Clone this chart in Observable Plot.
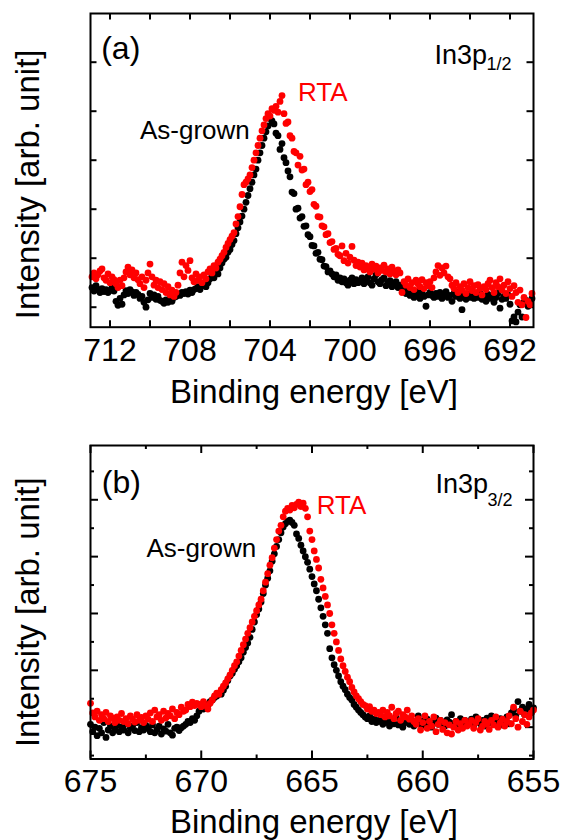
<!DOCTYPE html>
<html><head><meta charset="utf-8">
<script src="https://cdn.jsdelivr.net/npm/d3@7"></script>
<script src="https://cdn.jsdelivr.net/npm/@observablehq/plot@0.6"></script>
<style>
html,body{margin:0;padding:0;background:#fff;}
#chart{width:564px;height:840px;}
#chart svg{display:block;}
</style></head><body><div id="chart"></div>
<script>
// ---- Panel (a): In3p1/2, binding energy grid 712.9 -> 690.9 eV, step 0.1 eV ----
const energyStartA = 712.9;
const energyStepA = 0.1;
const asGrownA = [
0.40,0.33,0.44,0.36,0.30,
0.38,0.32,0.36,0.30,0.34,0.40,0.33,
0.12,0.04,0.18,0.06,0.25,
0.34,0.28,0.36,0.31,0.24,
0.30,0.26,0.18,0.22,0.10,0.00,0.15,
0.28,0.20,0.25,0.16,0.22,0.14,
0.12,0.08,0.15,0.10,0.18,0.12,0.20,
0.22,0.26,0.24,0.30,0.28,0.32,0.27,0.35,0.30,0.36,
0.38,0.42,0.36,0.44,0.48,0.42,0.50,
0.58,0.64,0.60,0.72,0.68,0.80,
0.90,0.98,1.02,1.12,1.18,1.28,1.36,
1.50,1.62,1.74,1.86,2.00,
2.14,2.28,2.42,2.55,2.70,
2.82,3.00,3.15,3.30,
3.45,3.58,3.70,3.85,3.80,
3.74,3.55,3.50,3.22,3.34,3.05,2.95,2.78,2.66,2.35,2.32,2.00,2.02,1.82,1.85,1.65,1.66,1.48,1.44,1.26,1.25,1.10,1.12,0.98,0.97,0.84,0.83,0.72,0.74,
0.68,0.62,0.66,0.55,0.60,0.52,0.58,0.50,0.45,0.55,0.60,0.48,0.56,0.50,
0.52,0.60,0.48,0.55,0.62,0.50,0.45,0.58,0.66,0.52,0.48,0.56,0.60,0.44,0.50,0.54,0.42,0.48,0.52,0.40,0.45,
0.38,0.32,0.28,0.35,0.24,0.30,0.20,0.26,0.33,0.18,0.28,0.22,0.02,0.25,0.30,0.24,0.20,
0.28,0.22,0.30,0.18,0.26,0.32,0.20,0.24,0.12,0.28,0.22,0.30,0.18,-0.05,0.24,0.16,0.26,0.20,0.28,0.18,
0.24,0.20,0.28,0.16,0.22,0.12,0.26,0.18,0.24,0.10,0.20,0.28,-0.02,0.16,0.22,0.18,0.25,0.06,-0.28,-0.20,
-0.30,-0.10,0.05,-0.20,0.10,0.14,0.02,0.12,0.18
];
const rtaA = [
0.62,0.70,0.58,0.66,0.74,
0.78,0.60,0.55,0.68,0.50,0.62,0.56,
0.48,0.40,0.55,0.44,0.60,
0.72,0.82,0.66,0.76,0.60,0.70,0.56,
0.48,0.62,0.40,0.55,0.70,0.88,
0.62,0.45,0.55,0.40,0.52,0.36,0.48,0.30,0.42,
0.25,0.35,0.22,0.30,0.45,
0.70,0.92,0.62,0.85,0.75,0.95,
0.60,0.52,0.68,0.55,0.62,0.50,0.66,0.58,0.72,
0.78,0.70,0.85,0.80,0.92,0.98,
1.05,1.12,1.22,1.30,1.38,1.45,1.52,
1.70,1.85,2.05,2.30,2.50,
2.55,2.62,2.70,2.85,3.00,
3.15,3.30,3.45,3.60,
3.72,3.85,3.95,3.90,4.05,
4.02,4.10,3.98,4.20,4.32,
3.95,3.75,3.78,3.50,3.45,3.18,
3.15,2.90,3.08,2.80,2.82,
2.50,2.55,2.36,2.40,
2.10,2.06,1.85,1.84,1.66,1.64,
1.48,1.50,1.32,1.34,1.18,1.20,1.08,
1.05,1.25,0.95,1.10,0.90,1.02,1.24,0.96,0.85,0.92,
0.82,0.90,0.76,0.85,0.80,0.72,0.88,0.78,0.84,0.70,0.80,0.75,0.86,0.72,0.78,0.68,0.82,0.74,0.66,0.76,0.70,
0.30,0.52,0.45,0.58,0.40,0.50,0.36,0.55,0.48,0.42,0.56,0.38,0.50,0.44,0.52,0.40,0.60,
0.72,0.85,0.65,0.80,0.70,0.84,0.62,0.58,
0.45,0.38,0.50,0.30,0.42,0.35,0.48,0.28,0.40,0.52,0.34,0.44,0.30,0.46,0.38,0.25,0.42,0.36,0.48,
0.55,0.40,0.30,0.50,0.42,0.58,0.35,0.45,0.28,0.52,0.38,0.22,0.44,
0.30,0.10,0.35,0.05,0.20,-0.21,0.12,0.05,0.28
];
const xTicksA = [712,710,708,706,704,702,700,698,696,694,692];
const xLabelsA = [712,708,704,700,696,692];
const yTicksA = [0,1,2,3,4,5];
const textsA = {panel: "(a)", peak: "In3p", sub: "1/2"};

// ---- Panel (b): In3p3/2, binding energy grid 675.0 -> 655.0 eV, step 0.1 eV ----
const energyStartB = 675.0;
const energyStepB = 0.1;
const asGrownB = [
1.05,0.92,1.00,0.85,0.98,0.90,1.08,0.82,0.95,1.02,0.90,
0.96,1.04,0.92,1.00,0.95,1.06,0.90,0.98,1.02,0.94,1.08,0.92,0.99,0.95,1.03,
0.98,0.92,1.04,0.90,0.96,1.02,0.88,0.97,0.93,1.05,0.90,0.86,0.98,1.00,0.94,0.99,1.02,
1.05,1.10,1.08,1.15,1.12,1.20,
1.28,1.35,1.32,1.40,1.38,1.45,
1.48,1.52,1.55,1.60,1.58,1.65,1.72,
1.82,1.90,1.95,2.02,2.08,2.15,
2.22,2.32,2.40,2.48,2.58,
2.72,2.85,2.98,3.08,3.20,
3.35,3.50,3.62,3.75,3.92,
4.05,4.18,4.30,4.42,4.52,
4.58,4.62,4.64,4.60,4.55,
4.40,4.32,4.20,4.10,4.00,
3.90,3.78,3.65,3.52,3.40,
3.25,3.10,2.95,2.80,2.65,
2.38,2.22,2.10,2.00,1.90,
1.80,1.72,1.66,1.58,1.52,1.48,
1.40,1.35,1.30,1.26,1.22,1.18,1.15,1.20,1.10,1.14,1.08,1.12,
1.10,1.05,1.14,1.08,1.02,1.12,1.06,1.18,1.04,1.10,1.00,1.08,1.15,1.05,1.12,1.02,1.09,1.20,1.06,1.11,
1.03,1.14,1.08,1.00,1.10,1.16,1.05,1.12,1.07,1.02,1.13,1.09,1.22,1.06,1.10,1.04,1.15,1.08,1.12,1.05,
1.08,1.14,1.04,1.18,1.10,1.06,1.12,1.02,1.16,1.08,1.20,1.05,1.12,1.08,1.15,1.04,1.10,1.18,1.06,1.25,
1.30,1.20,1.45,1.28,1.35,1.22,1.32,1.40,1.26,1.34
];
const rtaB = [
1.42,1.25,1.18,1.28,1.12,1.22,1.15,1.26,1.10,1.20,1.16,
1.08,1.18,1.12,1.24,1.10,1.15,1.06,1.20,1.14,1.09,1.22,1.12,1.17,1.08,1.20,
1.14,1.25,1.10,1.30,1.18,1.22,1.12,1.28,1.16,1.24,1.20,1.32,1.15,1.26,1.22,1.35,1.28,
1.30,1.40,1.36,1.44,1.38,1.42,
1.40,1.36,1.45,1.38,1.32,1.42,
1.48,1.55,1.60,1.58,1.66,1.72,1.78,
1.85,1.92,2.00,2.08,2.15,2.25,
2.35,2.45,2.55,2.65,2.75,
2.85,2.95,3.05,3.15,3.25,
3.40,3.55,3.70,3.85,3.98,
4.15,4.30,4.45,4.55,4.70,
4.80,4.85,4.82,4.90,4.86,
4.92,4.96,4.88,4.94,4.85,
4.70,4.45,4.30,4.10,3.95,
3.80,3.60,3.45,3.30,3.15,
3.00,2.80,2.65,2.50,2.35,
2.20,2.08,1.98,1.88,1.80,1.70,
1.62,1.55,1.50,1.45,1.40,1.38,1.32,1.36,1.28,1.30,1.24,1.26,
1.22,1.30,1.18,1.26,1.20,1.35,1.15,1.24,1.28,1.12,1.22,1.18,1.30,1.14,1.20,1.10,
1.05,1.15,0.95,1.08,1.20,0.98,1.10,1.02,1.18,0.92,1.05,1.12,0.96,1.08,0.90,1.04,0.88,1.00,1.10,0.95,1.06,0.98,1.12,1.02,
1.05,1.12,0.98,1.08,1.15,0.95,1.02,1.10,1.06,0.96,1.12,1.04,1.18,1.00,1.08,1.14,1.02,1.10,1.20,1.06,
1.35,1.15,1.00,1.28,1.10,1.22,1.05,1.18,1.25,1.30
];
const xMajorB = [675,670,665,660,655];
const xMinorB = [672.5,667.5,662.5,657.5];
const yMajorB = [1,2,3,4,5];
const yMinorB = [0.5,1.5,2.5,3.5,4.5,5.5];
const textsB = {panel: "(b)", peak: "In3p", sub: "3/2"};

const seriesNames = ["As-grown", "RTA"];
const xTitle = "Binding energy [eV]";
const yTitle = "Intensity [arb. unit]";

function toRows(start, step, values) {
  return values.map((v, i) => ({energy: +(start - i * step).toFixed(2), intensity: v}));
}

const FONT = "'Liberation Sans', Arial, Helvetica, sans-serif";
const W = 564, ML = 90, MR = 31, FW = W - ML - MR;

function ticks(xs, ys, len, FH) {
  const s = {stroke: "#000", strokeWidth: 2};
  return [
    Plot.ruleX(xs, {x: d => d, insetTop: FH - len, ...s}),
    Plot.ruleX(xs, {x: d => d, insetBottom: FH - len, ...s}),
    Plot.ruleY(ys, {y: d => d, insetRight: FW - len, ...s}),
    Plot.ruleY(ys, {y: d => d, insetLeft: FW - len, ...s})
  ];
}

function panel(cfg) {
  const FH = cfg.height - cfg.mt - cfg.mb;
  return Plot.plot({
    width: W, height: cfg.height,
    marginLeft: ML, marginRight: MR, marginTop: cfg.mt, marginBottom: cfg.mb,
    style: {fontFamily: FONT, background: "#fff", color: "#000", overflow: "visible"},
    x: {domain: cfg.xDomain},
    y: {domain: cfg.yDomain, axis: null},
    marks: [
      ...cfg.tickMarks(FH),
      Plot.dot(cfg.black, {x: "energy", y: "intensity", r: 3.4, fill: "#000", stroke: "none"}),
      Plot.dot(cfg.red, {x: "energy", y: "intensity", r: 3.4, fill: "#ff0000", stroke: "none"}),
      Plot.frame({stroke: "#000", strokeWidth: 2}),
      Plot.axisX(cfg.xLabels, {anchor: "bottom", tickSize: 0, tickPadding: cfg.tickPad, fontSize: 32, label: null, tickFormat: d => String(d)}),
      Plot.text([xTitle], {frameAnchor: "bottom", lineAnchor: "bottom", dx: 2, dy: cfg.xTitleDy, fontSize: 33}),
      Plot.text([yTitle], {frameAnchor: "left", rotate: -90, textAnchor: "middle", lineAnchor: "bottom", dx: -51.5, dy: cfg.yTitleDy, fontSize: 33}),
      Plot.text([cfg.texts.panel], {frameAnchor: "top-left", textAnchor: "start", lineAnchor: "bottom", dx: cfg.pos.panel[0], dy: cfg.pos.panel[1], fontSize: 32}),
      Plot.text([cfg.texts.peak], {frameAnchor: "top-right", textAnchor: "end", lineAnchor: "bottom", dx: cfg.pos.peak[0], dy: cfg.pos.peak[1], fontSize: 27}),
      Plot.text([cfg.texts.sub], {frameAnchor: "top-right", textAnchor: "start", lineAnchor: "bottom", dx: cfg.pos.sub[0], dy: cfg.pos.sub[1], fontSize: 18}),
      Plot.text([seriesNames[1]], {frameAnchor: "top-left", textAnchor: "start", lineAnchor: "bottom", dx: cfg.pos.rta[0], dy: cfg.pos.rta[1], fontSize: 26, fill: "#ff0000"}),
      Plot.text([seriesNames[0]], {frameAnchor: "top-left", textAnchor: "start", lineAnchor: "bottom", dx: cfg.pos.asg[0], dy: cfg.pos.asg[1], fontSize: 26, fill: "#000"})
    ]
  });
}

const chart = document.getElementById("chart");

chart.append(panel({
  height: 420, mt: 13, mb: 93.3,
  xDomain: [712.975, 690.825], yDomain: [-0.408, 5.994],
  black: toRows(energyStartA, energyStepA, asGrownA),
  red: toRows(energyStartA, energyStepA, rtaA),
  xLabels: xLabelsA, tickPad: 11, xTitleDy: 75.3, yTitleDy: 14,
  tickMarks: FH => ticks(xTicksA, yTicksA, 6.5, FH),
  texts: textsA,
  pos: {panel: [10.7, 45], peak: [-46.5, 50], sub: [-47, 56], rta: [207.5, 87.5], asg: [49.5, 125]}
}));

chart.append(panel({
  height: 420, mt: 25, mb: 81.5,
  xDomain: [675, 655], yDomain: [0.44, 5.955],
  black: toRows(energyStartB, energyStepB, asGrownB),
  red: toRows(energyStartB, energyStepB, rtaB),
  xLabels: xMajorB, tickPad: 10, xTitleDy: 74, yTitleDy: 10,
  tickMarks: FH => [...ticks(xMajorB, yMajorB, 8, FH), ...ticks(xMinorB, yMinorB, 4, FH)],
  texts: textsB,
  pos: {panel: [11.3, 47], peak: [-45.5, 47.7], sub: [-46, 60.5], rta: [226.3, 68.3], asg: [56, 111]}
}));
</script>
</body></html>
